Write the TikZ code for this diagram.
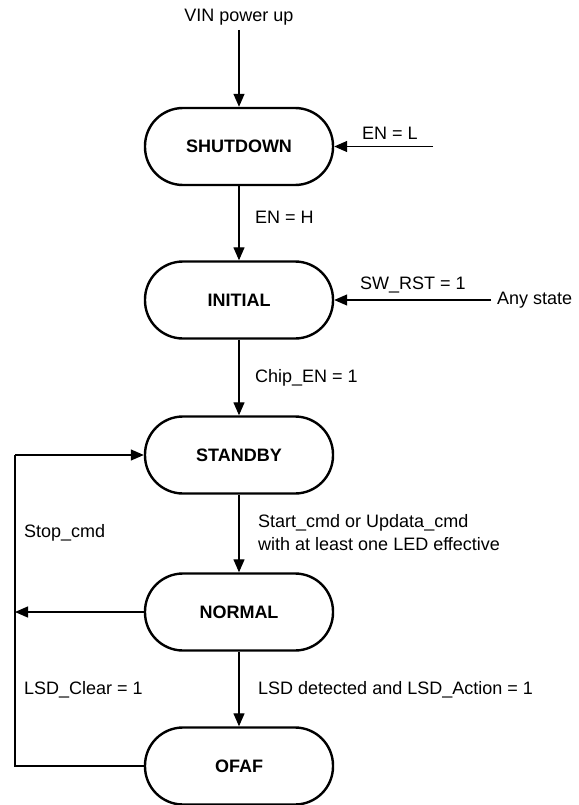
\documentclass[tikz,border=0pt]{standalone}
\usepackage{fontspec}
\setmainfont{Liberation Sans}
\usetikzlibrary{arrows.meta}
\begin{document}
\begin{tikzpicture}[x=1pt,y=-1pt,
  state/.style={draw,line width=2.4pt,rounded corners=38pt,minimum width=188pt,minimum height=77pt,inner sep=0pt,font=\fontsize{18}{21}\selectfont\bfseries},
  lbl/.style={anchor=west,inner sep=0pt,font=\fontsize{18}{23}\selectfont,align=left},
  conn/.style={line width=1.3pt,-{Triangle[length=13pt,width=11pt]}},
  plain/.style={line width=1.3pt}]
\useasboundingbox (0,0) rectangle (578,805);
\node[state] (sd) at (239,146.5) {SHUTDOWN};
\node[state] (ini) at (239,300) {INITIAL};
\node[state] (sb) at (239,455) {STANDBY};
\node[state] (nm) at (239,612) {NORMAL};
\node[state] (of) at (239,766) {OFAF};
\node[inner sep=0pt,font=\fontsize{18}{21}\selectfont] (vin) at (239,17) {VIN power up};
\coordinate (vinb) at (239,30);
\coordinate (enl) at (433,146.5);
\coordinate (anys) at (491,300);
\coordinate (lt) at (15,455);
\coordinate (lm) at (15,612);
\coordinate (lb) at (15,766);
\draw[conn] (vinb) -- (sd.north);
\draw[conn] (enl) -- (sd.east);
\draw[conn] (sd.south) -- (ini.north);
\draw[conn] (anys) -- (ini.east);
\draw[conn] (ini.south) -- (sb.north);
\draw[conn] (sb.south) -- (nm.north);
\draw[conn] (nm.south) -- (of.north);
\draw[conn] (nm.west) -- (lm);
\draw[plain] (of.west) -- (lb) -- (lt);
\draw[conn] (lt) -- (sb.west);
\node[lbl] (l1) at (362,133) {EN = L};
\node[lbl] (l2) at (255,217) {EN = H};
\node[lbl] (l3) at (360,285) {SW\_RST = 1};
\node[lbl] (l4) at (497,300) {Any state};
\node[lbl] (l5) at (255,378) {Chip\_EN = 1};
\node[lbl] (l6) at (258,533) {Start\_cmd or Updata\_cmd\\with at least one LED effective};
\node[lbl] (l7) at (24,533) {Stop\_cmd};
\node[lbl] (l8) at (24,690) {LSD\_Clear = 1};
\node[lbl] (l9) at (258,690) {LSD detected and LSD\_Action = 1};
\end{tikzpicture}
\end{document}
